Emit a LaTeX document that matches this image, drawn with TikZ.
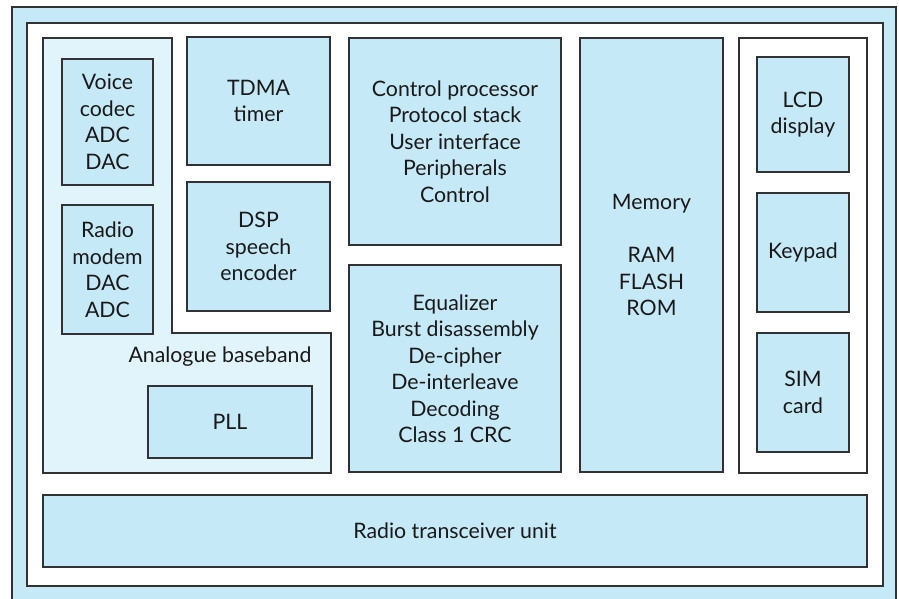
\documentclass[tikz,border=0pt]{standalone}
\usepackage{fontspec}
\setmainfont{Lato}
\definecolor{boxblue}{RGB}{198,233,248}
\definecolor{paleblue}{RGB}{225,243,251}
\definecolor{edge}{RGB}{50,50,52}
\tikzset{
  blk/.style={draw=edge, fill=boxblue, line width=1.3pt, align=center, inner sep=0pt,
    font=\fontsize{21.3}{26.5}\selectfont, text=black!90},
  plain/.style={align=center, inner sep=0pt, font=\fontsize{21.3}{26.5}\selectfont, text=black!90}
}
\begin{document}
\begin{tikzpicture}[x=1pt,y=-1pt]
\useasboundingbox (0,0) rectangle (899,599);
\clip (0,0) rectangle (899,599);
% outer frame
\node[draw=edge, fill=boxblue, line width=2pt, minimum width=884pt, minimum height=620pt, inner sep=0pt] (outer) at (454,317) {};
\node[draw=edge, fill=white, line width=1.8pt, minimum width=856pt, minimum height=563pt, inner sep=0pt] (inner) at (455,304.5) {};
% analogue baseband region
\draw[draw=edge, fill=paleblue, line width=1.3pt] (43,38) -- (172,38) -- (172,333) -- (331,333) -- (331,473) -- (43,473) -- cycle;
\node[plain] (ablabel) at (220,357) {Analogue baseband};
\node[blk, minimum width=91pt, minimum height=126pt] (voice) at (107.5,122) {Voice\\codec\\ADC\\DAC};
\node[blk, minimum width=91pt, minimum height=129pt] (modem) at (107.5,269.5) {Radio\\modem\\DAC\\ADC};
\node[blk, minimum width=164pt, minimum height=72pt] (pll) at (230,422) {PLL};
\node[blk, minimum width=143pt, minimum height=128pt] (tdma) at (258.5,101) {TDMA\\timer};
\node[blk, minimum width=143pt, minimum height=129pt] (dsp) at (258.5,246.5) {DSP\\speech\\encoder};
\node[blk, minimum width=212pt, minimum height=207pt] (ctrl) at (455,141.5) {Control processor\\Protocol stack\\User interface\\Peripherals\\Control};
\node[blk, minimum width=212pt, minimum height=207pt] (eq) at (455,368.5) {Equalizer\\Burst disassembly\\De-cipher\\De-interleave\\Decoding\\Class 1 CRC};
\node[blk, minimum width=143pt, minimum height=434pt] (mem) at (651.5,255) {Memory\\ \\RAM\\FLASH\\ROM};
\node[blk, fill=white, minimum width=128pt, minimum height=435pt] (ui) at (803,255.5) {};
\node[blk, minimum width=92pt, minimum height=115pt] (lcd) at (803,114.5) {LCD\\display};
\node[blk, minimum width=92pt, minimum height=119pt] (keypad) at (803,252.5) {Keypad};
\node[blk, minimum width=92pt, minimum height=119pt] (sim) at (803,392.5) {SIM\\card};
\node[blk, minimum width=824pt, minimum height=72pt] (rtu) at (455,531) {Radio transceiver unit};
\end{tikzpicture}
\end{document}
